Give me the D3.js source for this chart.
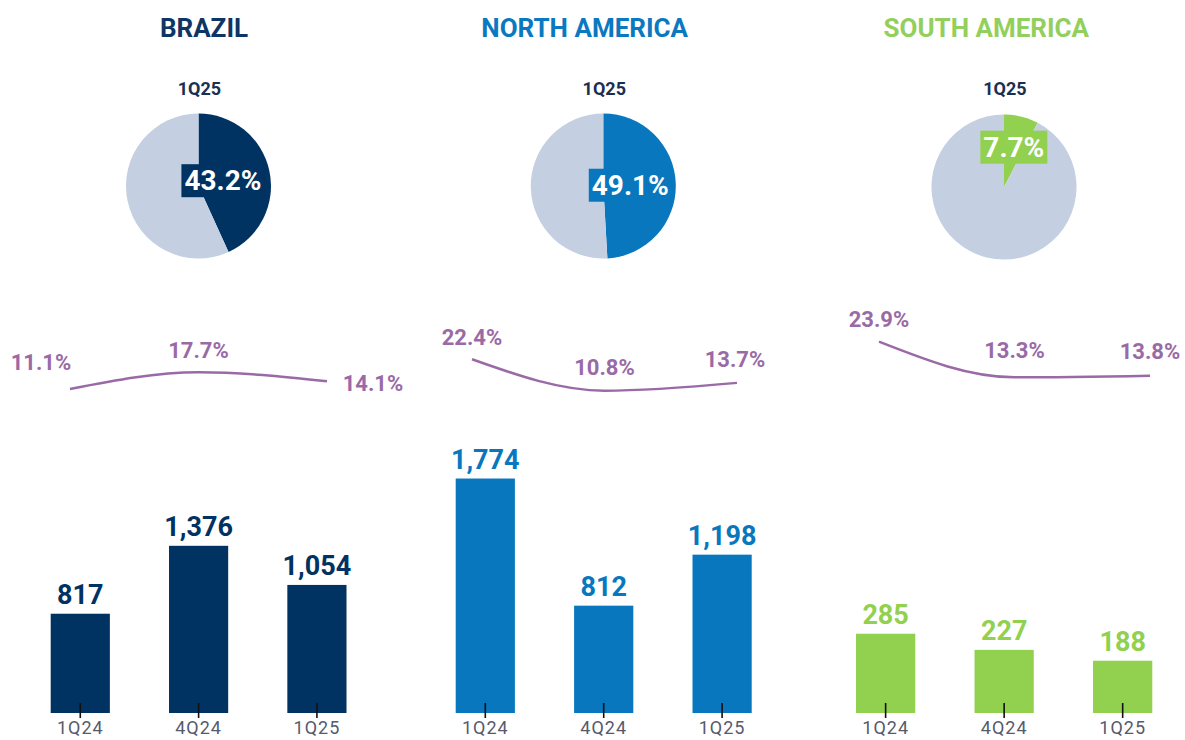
<!DOCTYPE html>
<html>
<head>
<meta charset="utf-8">
<script src="https://cdn.jsdelivr.net/npm/d3@7"></script>
<style>
  html, body { margin: 0; padding: 0; background: #ffffff; }
  svg { display: block; font-family: Roboto, "Noto Sans", sans-serif; }
</style>
</head>
<body>
<svg id="chart" width="1185" height="740"></svg>
<script>
// ---- data ----
const regions   = ["BRAZIL", "NORTH AMERICA", "SOUTH AMERICA"];
const quarters  = ["1Q24", "4Q24", "1Q25"];
const pieTitle  = "1Q25";
const shares    = [43.2, 49.1, 7.7];              // share of total, 1Q25 (%)
const marginsBR = [11.1, 17.7, 14.1];             // margin by quarter (%)
const marginsNA = [22.4, 10.8, 13.7];
const marginsSA = [23.9, 13.3, 13.8];
const volumesBR = [817, 1376, 1054];
const volumesNA = [1774, 812, 1198];
const volumesSA = [285, 227, 188];

const margins = [marginsBR, marginsNA, marginsSA];
const volumes = [volumesBR, volumesNA, volumesSA];

// ---- styling / layout ----
const colors    = ["#003262", "#0877bd", "#92d050"];
const titleCols = ["#0d3566", "#0a79bf", "#92cf5c"];
const pieRest   = "#c4cfe1";
const lineColor = "#9a6aa6";
const axisText  = "#565a6c";

const baseY = 713;
const panels = [
  { bandRange: [50.7, 346.5],  barMax: 1934, pie: [198.5, 186], labelR: 25, titleX: 204,
    lineX: [70, 327],  lineY: [417, 341.1],
    lblOff: [[-29, -19], [0, -14], [46, 10]] },
  { bandRange: [455.7, 751.7], barMax: 1778, pie: [603.3, 186], labelR: 27, titleX: 584.7,
    lineX: [472, 737], lineY: [420, 338.7],
    lblOff: [[0, -14], [0, -16], [-2, -16]] },
  { bandRange: [856, 1152.3],  barMax: 845,  pie: [1004, 187], labelR: 41, titleX: 986.3,
    lineX: [879, 1150], lineY: [422, 321.2],
    lblOff: [[0, -15], [0, -19], [0, -17]] }
];

const svg = d3.select("#chart");
const fmt = d3.format(",");

panels.forEach((p, i) => {
  const g = svg.append("g");
  const x = d3.scaleBand().domain(quarters).range(p.bandRange).paddingInner(0.5).paddingOuter(0);

  // region title
  g.append("text")
    .attr("x", p.titleX).attr("y", 36.5)
    .attr("text-anchor", "middle")
    .attr("font-size", 26).attr("font-weight", 700)
    .attr("fill", titleCols[i])
    .text(regions[i]);

  // pie: share of the region
  const pg = g.append("g").attr("transform", `translate(${p.pie[0]},${p.pie[1]})`);
  pg.append("text")
    .attr("x", 1).attr("y", 95 - p.pie[1])
    .attr("text-anchor", "middle")
    .attr("font-size", 18).attr("font-weight", 700)
    .attr("fill", "#1b2f52")
    .text(pieTitle);

  const pie = d3.pie().sort(null).value(d => d);
  const arcs = pie([shares[i], 100 - shares[i]]);
  const arc = d3.arc().innerRadius(0).outerRadius(72.5);
  pg.selectAll("path.slice").data(arcs).join("path")
    .attr("class", "slice")
    .attr("d", arc)
    .attr("fill", (d, k) => k === 0 ? colors[i] : pieRest);

  const lblArc = d3.arc().innerRadius(p.labelR).outerRadius(p.labelR);
  const [lx, ly] = lblArc.centroid(arcs[0]);
  const lg = pg.append("g");
  const lt = lg.append("text")
    .attr("x", lx).attr("y", ly)
    .attr("text-anchor", "middle")
    .attr("dominant-baseline", "central")
    .attr("font-size", 28).attr("font-weight", 700)
    .attr("fill", "#ffffff")
    .text(shares[i].toFixed(1) + "%");
  const bb = lt.node().getBBox();
  lg.insert("rect", "text")
    .attr("x", bb.x - 3).attr("y", bb.y)
    .attr("width", bb.width + 6).attr("height", bb.height)
    .attr("fill", colors[i]);

  // margin line
  const lxScale = d3.scalePoint().domain(quarters).range(p.lineX);
  const lyScale = d3.scaleLinear().domain([0, 30]).range(p.lineY);
  const line = d3.line()
    .x((d, k) => lxScale(quarters[k]))
    .y(d => lyScale(d))
    .curve(d3.curveMonotoneX);
  g.append("path")
    .attr("d", line(margins[i]))
    .attr("fill", "none")
    .attr("stroke", lineColor)
    .attr("stroke-width", 2.5);
  g.selectAll("text.mlbl").data(margins[i]).join("text")
    .attr("class", "mlbl")
    .attr("x", (d, k) => lxScale(quarters[k]) + p.lblOff[k][0])
    .attr("y", (d, k) => lyScale(d) + p.lblOff[k][1])
    .attr("text-anchor", "middle")
    .attr("font-size", 22).attr("font-weight", 700)
    .attr("fill", lineColor)
    .text(d => d.toFixed(1) + "%");

  // volume bars
  const y = d3.scaleLinear().domain([0, p.barMax]).range([baseY, baseY - 235]);
  g.selectAll("rect.bar").data(volumes[i]).join("rect")
    .attr("class", "bar")
    .attr("x", (d, k) => x(quarters[k]))
    .attr("y", d => y(d))
    .attr("width", x.bandwidth())
    .attr("height", d => baseY - y(d))
    .attr("fill", colors[i]);
  g.selectAll("text.vlbl").data(volumes[i]).join("text")
    .attr("class", "vlbl")
    .attr("x", (d, k) => x(quarters[k]) + x.bandwidth() / 2)
    .attr("y", d => y(d) - 10)
    .attr("text-anchor", "middle")
    .attr("font-size", 27).attr("font-weight", 700)
    .attr("fill", colors[i])
    .text(d => fmt(d));

  // category axis
  const axis = d3.axisBottom(x).tickSize(0).tickPadding(0);
  const ag = g.append("g").attr("transform", `translate(0,${baseY})`).call(axis);
  ag.select(".domain").remove();
  ag.selectAll(".tick text")
    .attr("y", 21).attr("dy", 0)
    .attr("font-size", 18).attr("font-family", "Roboto, sans-serif")
    .attr("letter-spacing", 1)
    .attr("fill", axisText);
  ag.selectAll(".tick").append("line")
    .attr("y1", -10).attr("y2", 5)
    .attr("stroke", "#111").attr("stroke-width", 1.6);
});
</script>
</body>
</html>
